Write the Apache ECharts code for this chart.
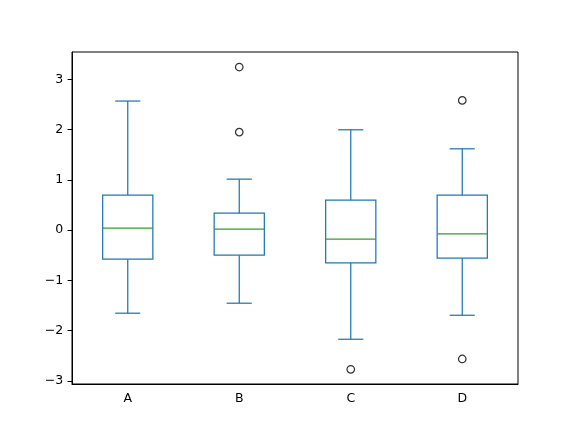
<!DOCTYPE html>
<html>
<head>
<meta charset="utf-8">
<script src="https://cdn.jsdelivr.net/npm/echarts@6/dist/echarts.min.js"></script>
<style>html,body{margin:0;padding:0;background:#fff}#c{width:576px;height:432px}</style>
</head>
<body>
<div id="c"></div>
<script>
var categories = ['A', 'B', 'C', 'D'];
var lowWhisker = [-1.654, -1.455, -2.173, -1.695];
var q1 = [-0.578, -0.498, -0.652, -0.559];
var median = [0.04, 0.02, -0.179, -0.074];
var q3 = [0.698, 0.339, 0.598, 0.698];
var highWhisker = [2.571, 1.016, 1.999, 1.62];
var outlierCat = [1, 1, 2, 3, 3];
var outlierVal = [3.249, 1.953, -2.771, 2.584, -2.566];
var yTicks = [-3, -2, -1, 0, 1, 2, 3];

var boxData = categories.map(function (c, i) {
  return [i, lowWhisker[i], q1[i], median[i], q3[i], highWhisker[i]];
});
var outlierData = outlierCat.map(function (c, i) { return [c, outlierVal[i]]; });

var blue = '#1f77b4', green = '#2ca02c', lw = 1.25;
var font = 'DejaVu Sans';

function renderBox(params, api) {
  var idx = api.value(0);
  var x = api.coord([idx, 0])[0];
  var band = api.size([1, 0])[0];
  var bw = band * 0.45, cw = bw / 2;
  var yLo = api.coord([idx, api.value(1)])[1];
  var yQ1 = api.coord([idx, api.value(2)])[1];
  var yMed = api.coord([idx, api.value(3)])[1];
  var yQ3 = api.coord([idx, api.value(4)])[1];
  var yHi = api.coord([idx, api.value(5)])[1];
  var ls = { stroke: blue, lineWidth: lw, fill: null };
  return {
    type: 'group',
    children: [
      { type: 'rect', shape: { x: x - bw / 2, y: yQ3, width: bw, height: yQ1 - yQ3 }, style: { stroke: blue, lineWidth: lw, fill: 'none' } },
      { type: 'line', shape: { x1: x, y1: yQ1, x2: x, y2: yLo }, style: ls },
      { type: 'line', shape: { x1: x, y1: yQ3, x2: x, y2: yHi }, style: ls },
      { type: 'line', shape: { x1: x - cw / 2, y1: yLo, x2: x + cw / 2, y2: yLo }, style: ls },
      { type: 'line', shape: { x1: x - cw / 2, y1: yHi, x2: x + cw / 2, y2: yHi }, style: ls },
      { type: 'line', shape: { x1: x - bw / 2, y1: yMed, x2: x + bw / 2, y2: yMed }, style: { stroke: green, lineWidth: lw } }
    ]
  };
}

var chart = echarts.init(document.getElementById('c'), null, { renderer: 'canvas' });
chart.setOption({
  animation: false,
  backgroundColor: '#fff',
  grid: { left: 72, right: 58, top: 52, bottom: 48, show: true, borderColor: '#000', borderWidth: 1, backgroundColor: 'transparent' },
  xAxis: {
    type: 'category',
    data: categories,
    axisLine: { onZero: false, lineStyle: { color: '#000', width: 1 } },
    axisTick: { alignWithLabel: true, length: 4.4, lineStyle: { color: '#000', width: 1 } },
    axisLabel: { color: '#000', fontFamily: font, fontSize: 12.5, margin: 8 },
    splitLine: { show: false }
  },
  yAxis: {
    type: 'value',
    min: -3.064,
    max: 3.548,
    axisLine: { show: true, onZero: false, lineStyle: { color: '#000', width: 1 } },
    axisTick: { show: true, length: 4.4, customValues: yTicks, lineStyle: { color: '#000', width: 1 } },
    axisLabel: {
      color: '#000', fontFamily: font, fontSize: 12.5, margin: 8.8,
      customValues: yTicks,
      formatter: function (v) { return v < 0 ? '\u2212' + Math.abs(v) : String(v); }
    },
    splitLine: { show: false }
  },
  series: [
    { type: 'custom', renderItem: renderBox, data: boxData, encode: { x: 0, y: [1, 2, 3, 4, 5] }, clip: true },
    {
      type: 'scatter', data: outlierData, symbol: 'circle', symbolSize: 7.5,
      itemStyle: { color: 'rgba(0,0,0,0)', borderColor: '#000', borderWidth: 1.25 }
    }
  ]
});
</script>
</body>
</html>
